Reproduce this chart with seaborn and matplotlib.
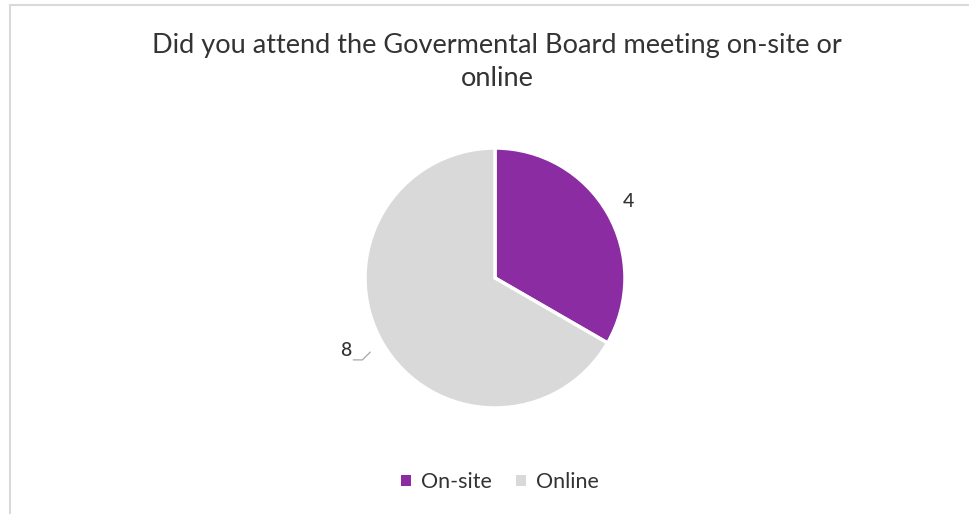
import matplotlib
matplotlib.use("Agg")
import matplotlib.pyplot as plt
from matplotlib.patches import Rectangle
from matplotlib.lines import Line2D
import seaborn as sns

# Survey responses
categories = ["On-site", "Online"]
counts = [4, 8]
title = "Did you attend the Govermental Board meeting on-site or\nonline"

sns.set_theme(style="white")
plt.rcParams["font.family"] = ["Lato", "DejaVu Sans"]
colors = ["#8B2CA3", "#D9D9D9"]
text_color = "#333333"

fig = plt.figure(figsize=(9.69, 5.14), dpi=100)
fig.patch.set_facecolor("white")

# chart frame
fig.add_artist(Rectangle((9.5 / 969, -0.1), 1.2, 1.1 - 5.5 / 514,
                         transform=fig.transFigure, fill=False,
                         edgecolor="#D9D9D9", linewidth=1.5))

fig.text(497 / 969, 1 - 62 / 514, title, ha="center", va="center",
         fontsize=19.5, color=text_color, linespacing=1.35)

r_px = 130
cx, cy = 495, 278
ax = fig.add_axes([(cx - r_px) / 969, 1 - (cy + r_px) / 514,
                   2 * r_px / 969, 2 * r_px / 514])
wedges, _ = ax.pie(counts, colors=colors, startangle=90, counterclock=False,
                   wedgeprops=dict(edgecolor="white", linewidth=2.5))
ax.set_xlim(-1, 1)
ax.set_ylim(-1, 1)
ax.set_aspect("auto")
ax.axis("off")

# data labels
ax.text(1.03, 0.59, str(counts[0]), fontsize=14, color=text_color,
        ha="center", va="center", clip_on=False, fontweight="medium")
ax.text(-1.15, -0.56, str(counts[1]), fontsize=14, color=text_color,
        ha="center", va="center", clip_on=False, fontweight="medium")
ax.add_line(Line2D([-1.09, -1.02, -0.96], [-0.63, -0.63, -0.57],
                   color="#A6A6A6", linewidth=0.9, clip_on=False))

handles = [Rectangle((0, 0), 1, 1, facecolor=c, edgecolor="none") for c in colors]
fig.legend(handles, categories, loc="center", bbox_to_anchor=(500 / 969, 1 - 482 / 514),
           ncol=2, frameon=False, fontsize=15.5, handlelength=0.45, handleheight=0.45,
           handletextpad=0.5, columnspacing=1.1, labelcolor=text_color)

fig.savefig("out.png", dpi=100, facecolor="white")
